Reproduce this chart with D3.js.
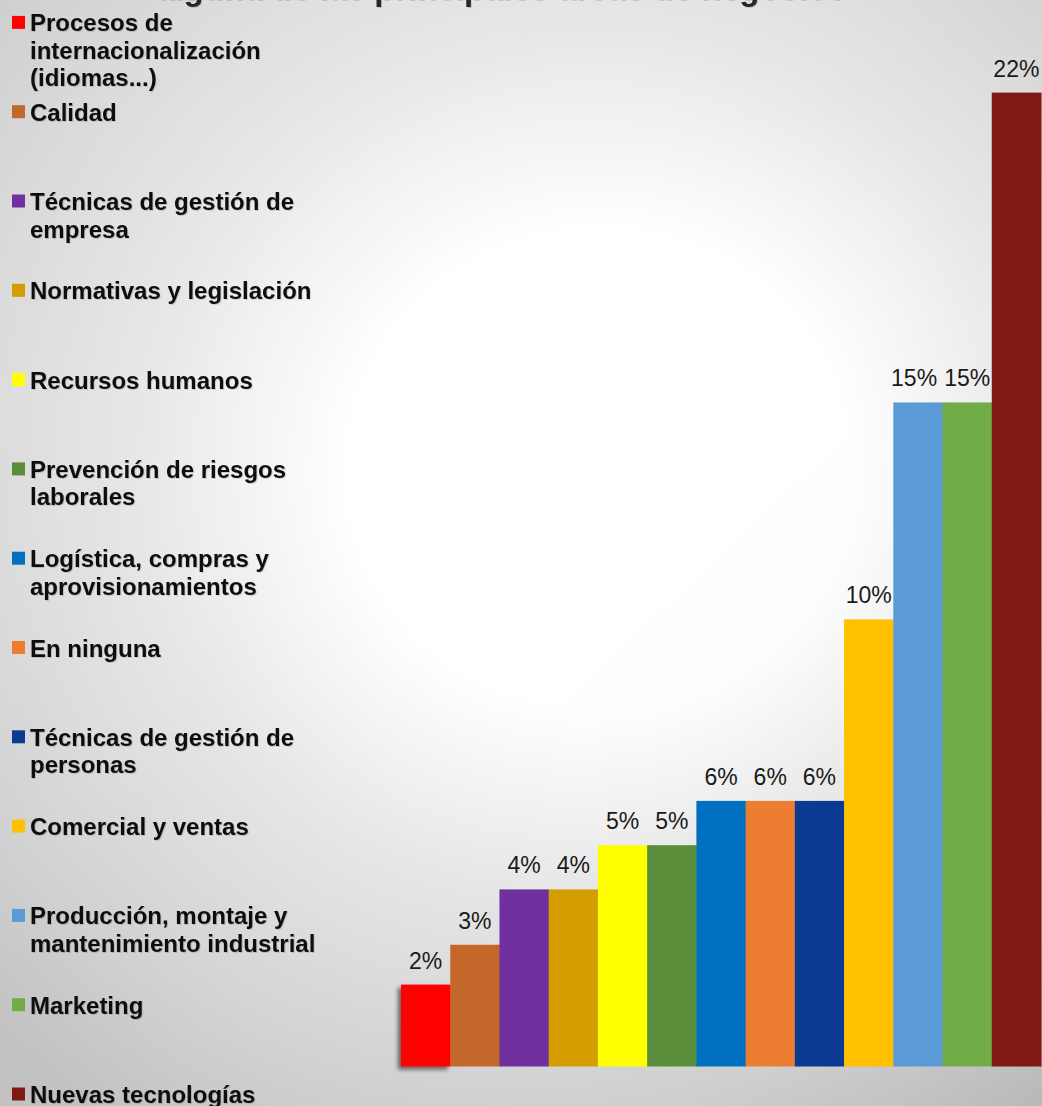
<!DOCTYPE html>
<html>
<head>
<meta charset="utf-8">
<script src="https://cdn.jsdelivr.net/npm/d3@7"></script>
<style>
  html, body { margin: 0; padding: 0; overflow: hidden; background: #d8d8d8; }
  svg { display: block; }
</style>
</head>
<body>
<svg id="chart"></svg>
<script>
// Training areas, ordered from the smallest share to the largest
const categories = [
  "Procesos de internacionalización (idiomas...)",
  "Calidad",
  "Técnicas de gestión de empresa",
  "Normativas y legislación",
  "Recursos humanos",
  "Prevención de riesgos laborales",
  "Logística, compras y aprovisionamientos",
  "En ninguna",
  "Técnicas de gestión de personas",
  "Comercial y ventas",
  "Producción, montaje y mantenimiento industrial",
  "Marketing",
  "Nuevas tecnologías"
];

// Share of answers (fraction), labels show them rounded to whole percent
const values = [0.0185, 0.0275, 0.04, 0.04, 0.05, 0.05, 0.06, 0.06, 0.06, 0.101, 0.15, 0.15, 0.22];

const colors = [
  "#FF0000", "#C4672A", "#7030A0", "#D49E00", "#FFFF00", "#5B8E3A", "#0070C0",
  "#ED7D31", "#0B3A93", "#FFC000", "#5B9BD5", "#70AD47", "#7F1911"
];

const titleLine = "alguna de las principales áreas de negocio?";

const W = 1042, H = 1106;
const FONT = "'Liberation Sans', Arial, Helvetica, sans-serif";

const svg = d3.select("#chart").attr("width", W).attr("height", H);
const defs = svg.append("defs");

// Soft radial backdrop, slightly elliptical
const bg = defs.append("radialGradient")
  .attr("id", "bgGrad")
  .attr("gradientUnits", "userSpaceOnUse")
  .attr("cx", 600).attr("cy", 470).attr("r", 800)
  .attr("gradientTransform", "translate(600,470) scale(1.05,1) translate(-600,-470)");
[[0, "#ffffff"], [0.30, "#ffffff"], [0.55, "#e6e6e6"], [0.78, "#d5d5d5"], [1, "#c2c2c2"]]
  .forEach(([o, c]) => bg.append("stop").attr("offset", o).attr("stop-color", c));

// Light tilt: brighter toward top-left, darker toward bottom-right
const tilt = defs.append("linearGradient")
  .attr("id", "tiltGrad")
  .attr("gradientUnits", "userSpaceOnUse")
  .attr("x1", 0).attr("y1", 0).attr("x2", W).attr("y2", H);
tilt.append("stop").attr("offset", 0).attr("stop-color", "#ffffff").attr("stop-opacity", 0.12);
tilt.append("stop").attr("offset", 0.5).attr("stop-color", "#ffffff").attr("stop-opacity", 0);
tilt.append("stop").attr("offset", 1).attr("stop-color", "#000000").attr("stop-opacity", 0.07);

const barShadow = defs.append("filter").attr("id", "barShadow")
  .attr("x", "-30%").attr("y", "-10%").attr("width", "160%").attr("height", "130%");
barShadow.append("feDropShadow")
  .attr("dx", -3).attr("dy", 3).attr("stdDeviation", 2.2)
  .attr("flood-color", "#000").attr("flood-opacity", 0.55);

const textShadow = defs.append("filter").attr("id", "textShadow")
  .attr("x", "-5%").attr("y", "-20%").attr("width", "110%").attr("height", "150%");
textShadow.append("feDropShadow")
  .attr("dx", 1).attr("dy", 1).attr("stdDeviation", 0.7)
  .attr("flood-color", "#000").attr("flood-opacity", 0.15);

svg.append("rect").attr("width", W).attr("height", H).attr("fill", "url(#bgGrad)");
svg.append("rect").attr("width", W).attr("height", H).attr("fill", "url(#tiltGrad)");

// Title (last line of the heading, running off the top edge)
svg.append("text")
  .attr("x", 156).attr("y", 0)
  .attr("font-family", FONT).attr("font-weight", "bold").attr("font-size", 33)
  .attr("fill", "#262626")
  .attr("filter", "url(#textShadow)")
  .text(titleLine);

// Scales
const x = d3.scaleBand().domain(categories).range([401, 1041]).padding(0);
const y = d3.scaleLinear().domain([0, 0.22]).range([1066.5, 92.6]);
const color = d3.scaleOrdinal().domain(categories).range(colors);
const fmt = d3.format(".0%");

const data = categories.map((c, i) => ({ cat: c, value: values[i] }));

// Bars
svg.append("g")
  .selectAll("rect")
  .data(data)
  .join("rect")
  .attr("x", d => x(d.cat))
  .attr("y", d => y(d.value))
  .attr("width", x.bandwidth() + 0.5)
  .attr("height", d => y(0) - y(d.value))
  .attr("fill", d => color(d.cat))
  .attr("filter", (d, i) => i === 0 ? "url(#barShadow)" : null);

// Value labels
const labels = svg.append("g")
  .selectAll("text")
  .data(data)
  .join("text")
  .attr("x", d => x(d.cat) + x.bandwidth() / 2)
  .attr("y", d => y(d.value) - 16)
  .attr("text-anchor", "middle")
  .attr("font-family", FONT).attr("font-size", 23)
  .attr("fill", "#1a1a1a")
  .text(d => fmt(d.value));

// Nudge neighbouring labels on the same row apart so they don't touch
const nodes = labels.nodes();
for (let i = nodes.length - 2; i >= 0; i--) {
  const a = nodes[i].getBBox(), b = nodes[i + 1].getBBox();
  const sameRow = Math.abs(a.y - b.y) < a.height;
  const overlap = a.x + a.width + 7 - b.x;
  if (sameRow && overlap > 0) {
    const cx = +nodes[i].getAttribute("x");
    nodes[i].setAttribute("x", cx - overlap);
  }
}

// Legend
const legend = svg.append("g");
const rowStep = 89.3, firstBaseline = 31.4, lineH = 27.5, maxW = 295;

data.forEach((d, i) => {
  const base = firstBaseline + i * rowStep;
  legend.append("rect")
    .attr("x", 12).attr("y", base - 15.5)
    .attr("width", 13).attr("height", 13)
    .attr("fill", color(d.cat));

  const t = legend.append("text")
    .attr("x", 30).attr("y", base)
    .attr("font-family", FONT).attr("font-weight", "bold").attr("font-size", 24)
    .attr("fill", "#0d0d0d")
    .attr("filter", "url(#textShadow)");

  // word wrap to the legend column width
  const words = d.cat.split(" ");
  let line = [], lineNo = 0;
  let tspan = t.append("tspan").attr("x", 30).attr("y", base);
  words.forEach(w => {
    line.push(w);
    tspan.text(line.join(" "));
    if (tspan.node().getComputedTextLength() > maxW && line.length > 1) {
      line.pop();
      tspan.text(line.join(" "));
      line = [w];
      lineNo++;
      tspan = t.append("tspan").attr("x", 30).attr("y", base + lineNo * lineH).text(w);
    }
  });
});
</script>
</body>
</html>
